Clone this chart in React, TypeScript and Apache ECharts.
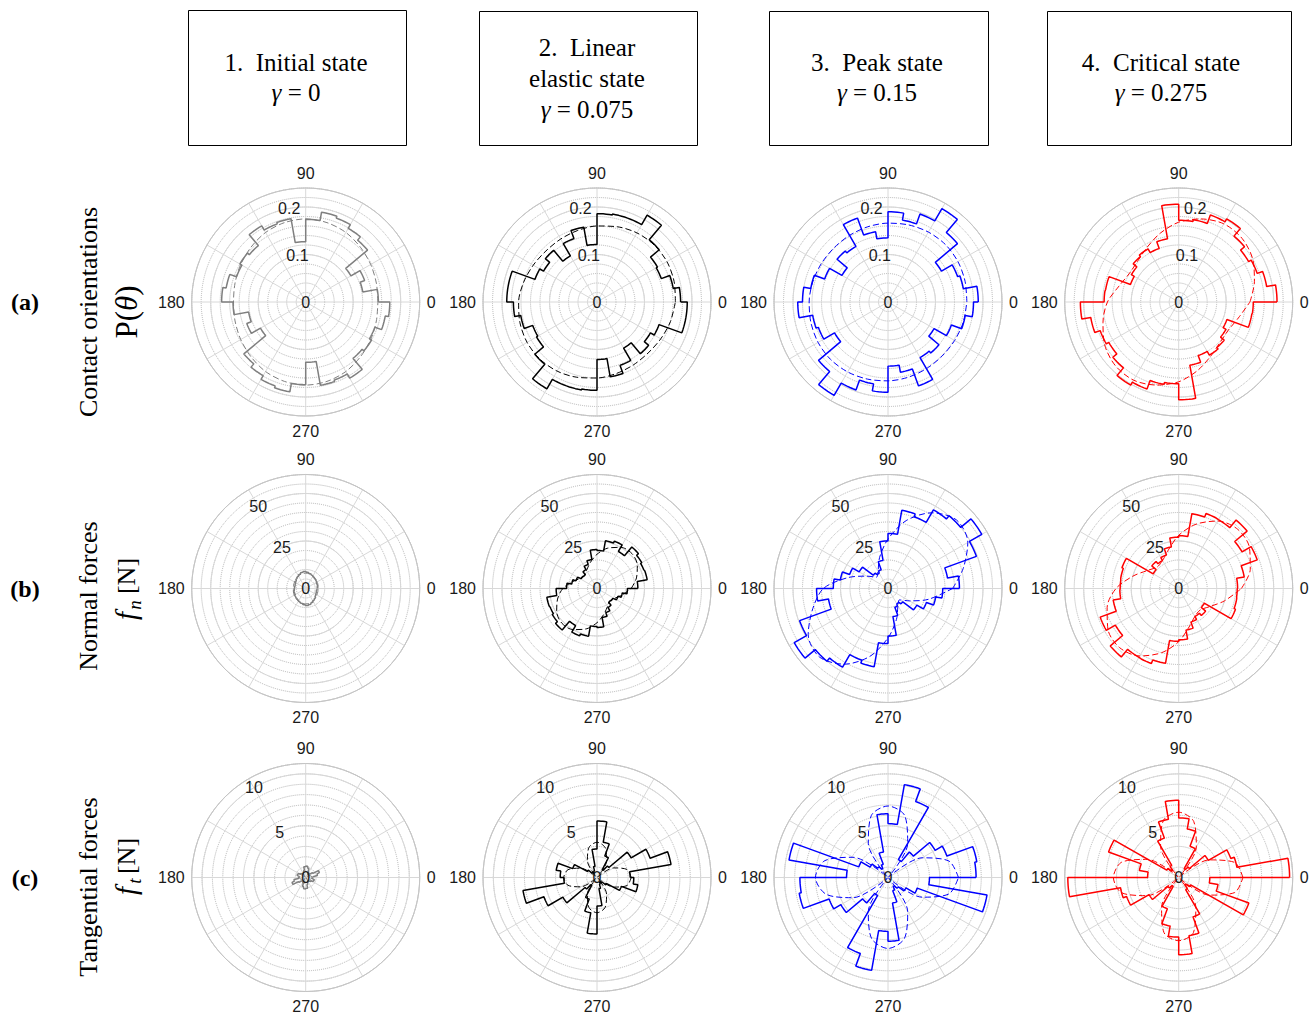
import React, { useEffect, useRef } from "react";
import * as echarts from "echarts";

// ---- data -------------------------------------------------------------
// 10-degree rose bins (start angle of each bin, degrees)
const binStarts = [
  0, 10, 20, 30, 40, 50, 60, 70, 80, 90, 100, 110, 120, 130, 140, 150, 160, 170,
  180, 190, 200, 210, 220, 230, 240, 250, 260, 270, 280, 290, 300, 310, 320, 330, 340, 350,
];
// sample angles of the fitted distributions (degrees)
const fitAngles = [0, 15, 30, 45, 60, 75, 90, 105, 120, 135, 150, 165, 180, 195, 210, 225, 240, 255, 270, 285, 300, 315, 330, 345];

// (a) contact orientations P(theta)
const contactInitial = [
  0.153, 0.122, 0.132, 0.11, 0.17, 0.179, 0.188, 0.192, 0.174, 0.127, 0.178, 0.175, 0.185, 0.155, 0.16, 0.155, 0.17, 0.177,
  0.153, 0.122, 0.132, 0.11, 0.17, 0.179, 0.188, 0.192, 0.174, 0.127, 0.178, 0.175, 0.185, 0.155, 0.16, 0.155, 0.17, 0.177,
];
const contactLinear = [
  0.176, 0.163, 0.144, 0.147, 0.171, 0.211, 0.188, 0.188, 0.186, 0.121, 0.16, 0.142, 0.112, 0.142, 0.13, 0.139, 0.19, 0.19,
  0.176, 0.163, 0.144, 0.147, 0.171, 0.211, 0.188, 0.188, 0.186, 0.121, 0.16, 0.142, 0.112, 0.142, 0.13, 0.139, 0.19, 0.19,
];
const contactPeak = [
  0.19, 0.161, 0.156, 0.13, 0.191, 0.227, 0.197, 0.175, 0.19, 0.135, 0.15, 0.188, 0.135, 0.14, 0.112, 0.142, 0.165, 0.18,
  0.19, 0.161, 0.156, 0.13, 0.191, 0.227, 0.197, 0.175, 0.19, 0.135, 0.15, 0.188, 0.135, 0.14, 0.112, 0.142, 0.165, 0.18,
];
const contactCritical = [
  0.207, 0.188, 0.176, 0.17, 0.181, 0.202, 0.195, 0.176, 0.172, 0.206, 0.135, 0.12, 0.129, 0.125, 0.115, 0.108, 0.156, 0.157,
  0.207, 0.188, 0.176, 0.17, 0.181, 0.202, 0.195, 0.176, 0.172, 0.206, 0.135, 0.12, 0.129, 0.125, 0.115, 0.108, 0.156, 0.157,
];
const contactFitInitial = [0.152, 0.154, 0.158, 0.163, 0.169, 0.173, 0.175, 0.173, 0.169, 0.163, 0.158, 0.154, 0.152, 0.154, 0.158, 0.163, 0.169, 0.173, 0.175, 0.173, 0.169, 0.163, 0.158, 0.154];
const contactFitLinear = [0.165, 0.168, 0.17, 0.17, 0.168, 0.164, 0.16, 0.156, 0.153, 0.152, 0.155, 0.16, 0.165, 0.168, 0.17, 0.17, 0.168, 0.164, 0.16, 0.156, 0.153, 0.152, 0.155, 0.16];
const contactFitPeak = [0.166, 0.168, 0.17, 0.171, 0.17, 0.168, 0.166, 0.164, 0.162, 0.161, 0.162, 0.164, 0.166, 0.168, 0.17, 0.171, 0.17, 0.168, 0.166, 0.164, 0.162, 0.161, 0.162, 0.164];
const contactFitCritical = [0.15, 0.165, 0.18, 0.189, 0.19, 0.181, 0.168, 0.15, 0.133, 0.122, 0.12, 0.13, 0.15, 0.165, 0.18, 0.189, 0.19, 0.181, 0.168, 0.15, 0.133, 0.122, 0.12, 0.13];

// (b) normal forces f_n [N]
const normalInitial = [
  6.1, 6.4, 6.3, 6.8, 7.0, 7.3, 7.7, 8.1, 8.6, 9.0, 8.7, 8.1, 7.5, 7.0, 6.4, 6.0, 5.8, 5.9,
  6.1, 6.4, 6.3, 6.8, 7.0, 7.3, 7.7, 8.1, 8.6, 9.0, 8.7, 8.1, 7.5, 7.0, 6.4, 6.0, 5.8, 5.9,
];
const normalLinear = [
  21.5, 26.8, 26.5, 27.2, 28.5, 22.5, 26.5, 25.5, 20, 20.5, 15.5, 13.5, 11.5, 9.5, 9.8, 11.8, 13.5, 16,
  21.5, 26.8, 26.5, 27.2, 28.5, 22.5, 26.5, 25.5, 20, 20.5, 15.5, 13.5, 11.5, 9.5, 9.8, 11.8, 13.5, 16,
];
const normalPeak = [
  37.6, 31.8, 49.5, 57, 50, 47.8, 40.2, 41.8, 29, 25, 15, 10.5, 9.3, 10.5, 17.5, 21.5, 25.5, 28.8,
  37.6, 31.8, 49.5, 57, 50, 47.8, 40.2, 41.8, 29, 25, 15, 10.5, 9.3, 10.5, 17.5, 21.5, 25.5, 28.8,
];
const normalCritical = [
  31, 35, 44, 38.5, 47, 41.8, 42, 40, 27.8, 27, 22.2, 18.8, 17, 18.5, 15.5, 31.8, 31, 30.8,
  31, 35, 44, 38.5, 47, 41.8, 42, 40, 27.8, 27, 22.2, 18.8, 17, 18.5, 15.5, 31.8, 31, 30.8,
];
const normalFitInitial = [6.5, 6.7, 7.0, 7.3, 7.7, 8.0, 8.1, 8.0, 7.6, 7.2, 6.8, 6.6, 6.5, 6.7, 7.0, 7.3, 7.7, 8.0, 8.1, 8.0, 7.6, 7.2, 6.8, 6.6];
const normalFitLinear = [18, 21.5, 24.5, 26, 25, 22, 18, 14, 11, 9.5, 10.5, 13.5, 18, 21.5, 24.5, 26, 25, 22, 18, 14, 11, 9.5, 10.5, 13.5];
const normalFitPeak = [34, 41, 48.5, 51, 46, 37, 26, 17, 10.5, 8.5, 13, 22, 34, 41, 48.5, 51, 46, 37, 26, 17, 10.5, 8.5, 13, 22];
const normalFitCritical = [33, 39, 43, 44, 41, 35, 28, 21, 17, 16, 19, 25, 33, 39, 43, 44, 41, 35, 28, 21, 17, 16, 19, 25];

// (c) tangential forces f_t [N]
const tangentialInitial = [
  0.7, 1.15, 1.4, 0.8, 0.5, 0.4, 0.6, 0.9, 1.1, 1.05, 0.7, 0.5, 0.4, 0.5, 0.6, 0.8, 0.85, 0.65,
  0.7, 1.15, 1.4, 0.8, 0.5, 0.4, 0.6, 0.9, 1.1, 1.05, 0.7, 0.5, 0.4, 0.5, 0.6, 0.8, 0.85, 0.65,
];
const tangentialLinear = [
  3.2, 7.25, 5.45, 3.8, 1.5, 0.9, 2.2, 3.45, 5.45, 2.75, 1.1, 0.7, 0.5, 0.65, 1.1, 2.5, 4.0, 3.55,
  3.2, 7.25, 5.45, 3.8, 1.5, 0.9, 2.2, 3.45, 5.45, 2.75, 1.1, 0.7, 0.5, 0.65, 1.1, 2.5, 4.0, 3.55,
];
const tangentialPeak = [
  8.5, 8.7, 6.05, 5.25, 3.2, 2.0, 7.8, 9.1, 5.2, 6.15, 2.5, 1.35, 1.0, 1.35, 2.0, 3.0, 9.7, 4.0,
  8.5, 8.7, 6.05, 5.25, 3.2, 2.0, 7.8, 9.1, 5.2, 6.15, 2.5, 1.35, 1.0, 1.35, 2.0, 3.0, 9.7, 4.0,
];
const tangentialCritical = [
  10.7, 5.7, 5.35, 3.3, 1.35, 1.0, 3.2, 4.75, 5.75, 7.45, 5.7, 4.05, 1.35, 0.9, 1.35, 7.2, 3.85, 3.0,
  10.7, 5.7, 5.35, 3.3, 1.35, 1.0, 3.2, 4.75, 5.75, 7.45, 5.7, 4.05, 1.35, 0.9, 1.35, 7.2, 3.85, 3.0,
];
const tangentialFitInitial = [0.6, 0.55, 0.33, 0.05, 0.33, 0.55, 0.6, 0.55, 0.33, 0.05, 0.33, 0.55, 0.6, 0.55, 0.33, 0.05, 0.33, 0.55, 0.6, 0.55, 0.33, 0.05, 0.33, 0.55];
const tangentialFitLinear = [3.3, 3.0, 1.85, 0.1, 1.85, 3.0, 3.4, 3.0, 1.85, 0.1, 1.8, 2.9, 3.2, 2.9, 1.8, 0.1, 1.85, 3.0, 3.4, 3.0, 1.85, 0.1, 1.85, 3.0];
const tangentialFitPeak = [6.8, 6.1, 3.8, 0.1, 3.8, 6.2, 6.9, 6.2, 3.8, 0.1, 3.9, 6.3, 7.0, 6.2, 3.9, 0.1, 3.8, 6.1, 6.85, 6.1, 3.8, 0.1, 3.8, 6.1];
const tangentialFitCritical = [6.2, 5.6, 3.4, 0.1, 3.4, 5.6, 6.3, 5.7, 3.5, 0.1, 3.5, 5.7, 6.3, 5.7, 3.5, 0.1, 3.3, 5.5, 6.1, 5.5, 3.3, 0.1, 3.4, 5.6];

// tick labels
const angleTickLabels = [0, 90, 180, 270];
const contactTicks = [0.1, 0.2];
const contactTickLabels = ["0.1", "0.2"];
const normalTicks = [25, 50];
const normalTickLabels = ["25", "50"];
const tangentialTicks = [5, 10];
const tangentialTickLabels = ["5", "10"];

// ---- layout / styling -------------------------------------------------
const W = 1314;
const H = 1015;
const COL_X = [305.7, 597, 888, 1178.7];
const ROW_Y = [302, 588.5, 877.5];
const RADIUS = 114;
const STATE_COLORS = ["#7f7f7f", "#000000", "#0000ff", "#ff0000"];
const SERIF = "'Liberation Serif', 'Times New Roman', serif";
const SANS = "'Liberation Sans', Arial, Helvetica, sans-serif";
const TICK_SIZE = 16;
const HEAD_SIZE = 25;

const rows = [
  {
    max: 0.24, major: 0.1, minor: 0.02,
    ticks: contactTicks, tickLabels: contactTickLabels, labelAngles: [100, 100, 100, 80],
    hist: [contactInitial, contactLinear, contactPeak, contactCritical],
    fits: [contactFitInitial, contactFitLinear, contactFitPeak, contactFitCritical],
  },
  {
    max: 60, major: 25, minor: 5,
    ticks: normalTicks, tickLabels: normalTickLabels, labelAngles: [120, 120, 120, 120],
    hist: [normalInitial, normalLinear, normalPeak, normalCritical],
    fits: [normalFitInitial, normalFitLinear, normalFitPeak, normalFitCritical],
  },
  {
    max: 11, major: 5, minor: 1,
    ticks: tangentialTicks, tickLabels: tangentialTickLabels, labelAngles: [120, 120, 120, 120],
    hist: [tangentialInitial, tangentialLinear, tangentialPeak, tangentialCritical],
    fits: [tangentialFitInitial, tangentialFitLinear, tangentialFitPeak, tangentialFitCritical],
  },
];

const stateBoxes = [
  { x: 188, y: 10, w: 218, h: 135, cx: 296, lines: ["1.\u00a0 Initial state", "{m|γ} = 0"], ys: [62, 92] },
  { x: 479, y: 11, w: 218, h: 134, cx: 587, lines: ["2.\u00a0 Linear", "elastic state", "{m|γ} = 0.075"], ys: [47, 78, 109] },
  { x: 769, y: 11, w: 219, h: 134, cx: 877, lines: ["3.\u00a0 Peak state", "{m|γ} = 0.15"], ys: [62, 92] },
  { x: 1047, y: 11, w: 244, h: 134, cx: 1161, lines: ["4.\u00a0 Critical state", "{m|γ} = 0.275"], ys: [62, 92] },
];

// rose outline: each bin is an arc at its value, joined by radial steps
function stairPoints(values: number[]): number[][] {
  const pts: number[][] = [];
  values.forEach((v, k) => {
    const start = binStarts[k];
    const end = k + 1 < binStarts.length ? binStarts[k + 1] : 360;
    const steps = 5;
    for (let s = 0; s <= steps; s++) pts.push([v, start + ((end - start) * s) / steps]);
  });
  pts.push([values[0], 360]);
  return pts;
}

function fitPoints(values: number[]): number[][] {
  const pts = fitAngles.map((a, i) => [values[i], a]);
  pts.push([values[0], 360]);
  return pts;
}

function buildOption() {
  const polar: any[] = [];
  const angleAxis: any[] = [];
  const radiusAxis: any[] = [];
  const series: any[] = [];
  const graphic: any[] = [];

  rows.forEach((row, ri) => {
    COL_X.forEach((cx, ci) => {
      const cy = ROW_Y[ri];
      const color = STATE_COLORS[ci];

      // dotted minor rings
      const pMinor = polar.length;
      polar.push({ center: [cx, cy], radius: [0, RADIUS] });
      angleAxis.push({
        polarIndex: pMinor, type: "value", min: 0, max: 360, startAngle: 0, clockwise: false, show: false,
      });
      radiusAxis.push({
        polarIndex: pMinor, type: "value", min: 0, max: row.max, interval: row.minor,
        axisLine: { show: false }, axisTick: { show: false }, axisLabel: { show: false },
        splitLine: { show: true, lineStyle: { color: "#b4b4b4", type: "dotted", width: 1 } },
      });

      // main grid: spokes every 30 degrees, solid major rings, angle labels
      const pMain = polar.length;
      polar.push({ center: [cx, cy], radius: [0, RADIUS] });
      angleAxis.push({
        polarIndex: pMain, type: "value", min: 0, max: 360, interval: 30, startAngle: 0, clockwise: false,
        axisLine: { show: true, lineStyle: { color: "#c4c4c4", width: 1 } },
        axisTick: { show: false },
        axisLabel: {
          show: true, margin: 7, fontSize: TICK_SIZE, fontFamily: SANS, color: "#1a1a1a",
          formatter: (v: number) => (angleTickLabels.indexOf(v) >= 0 ? String(v) : ""),
        },
        splitLine: { show: true, lineStyle: { color: "#d8d8d8", width: 1 } },
      });
      radiusAxis.push({
        polarIndex: pMain, type: "value", min: 0, max: row.max, interval: row.major,
        axisLine: { show: false }, axisTick: { show: false }, axisLabel: { show: false },
        splitLine: { show: true, lineStyle: { color: "#d8d8d8", width: 1 } },
      });

      series.push({
        type: "line", coordinateSystem: "polar", polarIndex: pMain,
        data: fitPoints(row.fits[ci]), showSymbol: false, smooth: 0.3, silent: true,
        lineStyle: { color, width: 1, type: [6, 3] }, z: 3,
      });
      series.push({
        type: "line", coordinateSystem: "polar", polarIndex: pMain,
        data: stairPoints(row.hist[ci]), showSymbol: false, silent: true,
        lineStyle: { color, width: 1.5 }, z: 4,
      });

      // radial tick labels
      const ang = (row.labelAngles[ci] * Math.PI) / 180;
      row.ticks.forEach((t, i) => {
        const rp = (t / row.max) * RADIUS;
        graphic.push({
          type: "text", x: cx + rp * Math.cos(ang), y: cy - rp * Math.sin(ang), z: 20,
          style: { text: row.tickLabels[i], fontSize: TICK_SIZE, fontFamily: SANS, fill: "#1a1a1a", align: "center", verticalAlign: "middle" },
        });
      });
      graphic.push({
        type: "text", x: cx, y: cy, z: 20,
        style: { text: "0", fontSize: TICK_SIZE, fontFamily: SANS, fill: "#1a1a1a", align: "center", verticalAlign: "middle" },
      });
    });
  });

  // state boxes
  stateBoxes.forEach((b) => {
    graphic.push({
      type: "rect", shape: { x: b.x + 0.5, y: b.y + 0.5, width: b.w, height: b.h }, z: 5,
      style: { fill: "#ffffff", stroke: "#000000", lineWidth: 1 },
    });
    b.lines.forEach((line, i) => {
      graphic.push({
        type: "text", x: b.cx, y: b.ys[i], z: 6,
        style: {
          text: line, fontSize: HEAD_SIZE, fontFamily: SERIF, fill: "#000", align: "center", verticalAlign: "middle",
          rich: { m: { fontSize: HEAD_SIZE, fontFamily: SERIF, fontStyle: "italic", fill: "#000" } },
        },
      });
    });
  });

  // row letters
  ["(a)", "(b)", "(c)"].forEach((t, i) => {
    graphic.push({
      type: "text", x: 25, y: ROW_Y[i], z: 6,
      style: { text: t, fontSize: 24, fontWeight: "bold", fontFamily: SERIF, fill: "#000", align: "center", verticalAlign: "middle" },
    });
  });

  // rotated row titles
  const rot = Math.PI / 2;
  const vtext = (text: string, x: number, y: number, size: number, italic = false, rich?: any) => ({
    type: "text", x, y, rotation: rot, z: 6,
    style: {
      text, fontSize: size, fontFamily: SERIF, fill: "#000", align: "center", verticalAlign: "middle",
      fontStyle: italic ? "italic" : "normal", rich,
    },
  });
  graphic.push(vtext("Contact orientations", 88, 312, 26));
  graphic.push(
    vtext("P({m|θ})", 126, 312, 31, false, { m: { fontSize: 31, fontFamily: SERIF, fontStyle: "italic", fill: "#000" } })
  );
  graphic.push(vtext("Normal forces", 88, 596, 26));
  graphic.push(vtext("f", 126, 616, 29, true));
  graphic.push(vtext("n", 134, 605, 19, true));
  graphic.push(vtext("[N]", 126, 576, 26));
  graphic.push(vtext("Tangential forces", 88, 887, 26));
  graphic.push(vtext("f", 126, 891, 29, true));
  graphic.push(vtext("t", 134, 881, 19, true));
  graphic.push(vtext("[N]", 126, 856, 26));

  return {
    animation: false,
    backgroundColor: "#ffffff",
    polar,
    angleAxis,
    radiusAxis,
    series,
    graphic,
  };
}

export default function App() {
  const ref = useRef<HTMLDivElement>(null);
  useEffect(() => {
    if (!ref.current) return;
    const chart = echarts.init(ref.current, undefined, { renderer: "svg", width: W, height: H });
    chart.setOption(buildOption() as any);
    return () => chart.dispose();
  }, []);
  return <div ref={ref} style={{ position: "fixed", left: 0, top: 0, width: W, height: H, background: "#fff" }} />;
}
